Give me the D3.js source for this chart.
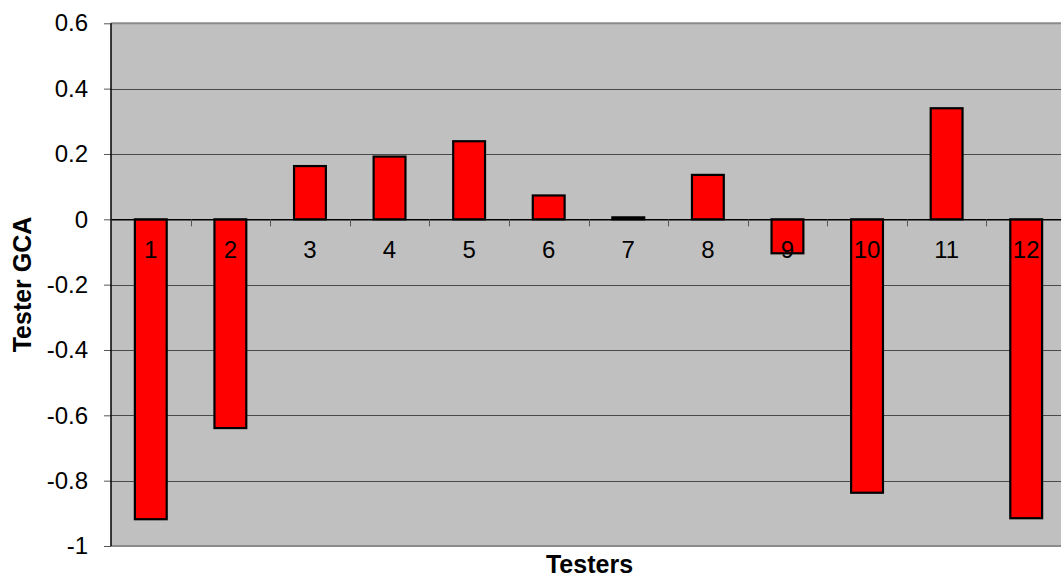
<!DOCTYPE html>
<html>
<head>
<meta charset="utf-8">
<script src="https://cdn.jsdelivr.net/npm/d3@7"></script>
<style>
  html, body { margin: 0; padding: 0; background: #fff; }
  svg { display: block; font-family: Arial, "Liberation Sans", sans-serif; }
</style>
</head>
<body>
<svg id="chart" width="1061" height="578"></svg>
<script>
// Tester general combining ability (GCA) per tester
const testers = ["1", "2", "3", "4", "5", "6", "7", "8", "9", "10", "11", "12"];
const gcaValues = [-0.918, -0.639, 0.163, 0.192, 0.239, 0.073, 0.006, 0.136, -0.104, -0.837, 0.340, -0.915];
const yTickValues = [0.6, 0.4, 0.2, 0, -0.2, -0.4, -0.6, -0.8, -1];
const yTickLabels = ["0.6", "0.4", "0.2", "0", "-0.2", "-0.4", "-0.6", "-0.8", "-1"];

const svg = d3.select("#chart");
const plot = { left: 111, top: 23.3, bottom: 546, right: 1066 };

const x = d3.scaleBand().domain(testers).range([plot.left, plot.right]).paddingInner(0).paddingOuter(0);
const y = d3.scaleLinear().domain([-1, 0.6]).range([plot.bottom, plot.top]);

// plot background
svg.append("rect")
  .attr("x", plot.left).attr("y", plot.top)
  .attr("width", plot.right - plot.left).attr("height", plot.bottom - plot.top)
  .attr("fill", "#c0c0c0");

// horizontal gridlines
svg.append("g").selectAll("line")
  .data(yTickValues.filter(v => v !== 0.6 && v !== -1 && v !== 0))
  .join("line")
  .attr("x1", plot.left).attr("x2", plot.right)
  .attr("y1", d => Math.round(y(d)) + 0.5).attr("y2", d => Math.round(y(d)) + 0.5)
  .attr("stroke", "#4a4a4a").attr("stroke-width", 1);

// plot border top / bottom
svg.append("line")
  .attr("x1", plot.left).attr("x2", plot.right)
  .attr("y1", y(0.6)).attr("y2", y(0.6))
  .attr("stroke", "#8c8c8c").attr("stroke-width", 2);
svg.append("line")
  .attr("x1", plot.left).attr("x2", plot.right)
  .attr("y1", y(-1)).attr("y2", y(-1))
  .attr("stroke", "#8c8c8c").attr("stroke-width", 2);

// bars
const barW = x.bandwidth() * 0.4;
svg.append("g").selectAll("rect")
  .data(testers.map((t, i) => ({ t, v: gcaValues[i] })))
  .join("rect")
  .attr("x", d => x(d.t) + (x.bandwidth() - barW) / 2)
  .attr("y", d => y(Math.max(0, d.v)))
  .attr("width", barW)
  .attr("height", d => Math.abs(y(d.v) - y(0)))
  .attr("fill", "#ff0000")
  .attr("stroke", "#000")
  .attr("stroke-width", 2.2);

// category axis along zero line
const xAxis = d3.axisBottom(x).tickSize(0).tickFormat(d => d);
const gx = svg.append("g").attr("transform", `translate(0,${y(0)})`).call(xAxis);
gx.select(".domain").attr("stroke", "#000").attr("stroke-width", 1.5);
gx.selectAll(".tick text")
  .attr("y", 0).attr("dy", 0)
  .attr("transform", "translate(0,39)")
  .attr("font-size", 24).attr("fill", "#000")
  .attr("font-family", "Arial, 'Liberation Sans', sans-serif");

// category boundary ticks
svg.append("g").selectAll("line")
  .data(testers.slice(1))
  .join("line")
  .attr("x1", d => Math.round(x(d)) + 0.5).attr("x2", d => Math.round(x(d)) + 0.5)
  .attr("y1", y(0)).attr("y2", y(0) + 7)
  .attr("stroke", "#555").attr("stroke-width", 1);

// value axis
const yAxis = d3.axisLeft(y).tickValues(yTickValues).tickSize(7).tickPadding(16)
  .tickFormat((d, i) => yTickLabels[i]);
const gy = svg.append("g").attr("transform", `translate(${plot.left},0)`).call(yAxis);
gy.select(".domain").remove();
gy.append("line")
  .attr("x1", 0).attr("x2", 0).attr("y1", plot.top).attr("y2", plot.bottom)
  .attr("stroke", "#000").attr("stroke-width", 1.5);
gy.selectAll(".tick line").attr("stroke", "#555");
gy.selectAll(".tick text")
  .attr("font-size", 24).attr("fill", "#000")
  .attr("font-family", "Arial, 'Liberation Sans', sans-serif");

// axis titles
svg.append("text")
  .attr("x", 589.5).attr("y", 573)
  .attr("text-anchor", "middle")
  .attr("font-size", 25).attr("font-weight", "bold")
  .text("Testers");
svg.append("text")
  .attr("transform", "translate(31,284.5) rotate(-90)")
  .attr("text-anchor", "middle")
  .attr("font-size", 25).attr("font-weight", "bold")
  .text("Tester GCA");
</script>
</body>
</html>
